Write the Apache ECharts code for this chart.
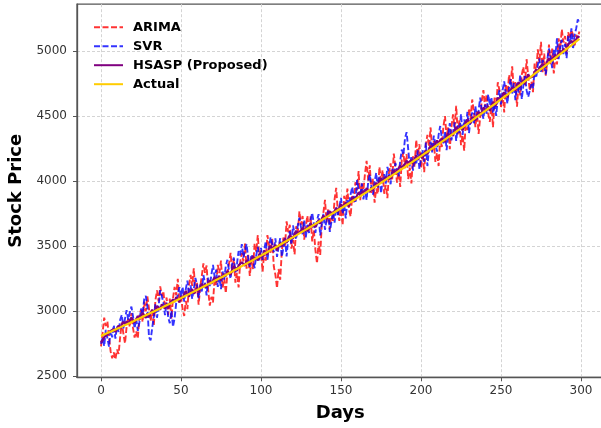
<!DOCTYPE html>
<html>
<head>
<meta charset="utf-8">
<script src="https://cdn.jsdelivr.net/npm/echarts@6/dist/echarts.min.js"></script>
<style>
  html, body { margin: 0; padding: 0; background: #fff; }
  #chart { width: 601px; height: 428px; }
</style>
</head>
<body>
<div id="chart"></div>
<script>
// tick labels
const xTicks = [0, 50, 100, 150, 200, 250, 300];
const yTicks = [2500, 3000, 3500, 4000, 4500, 5000];

// one value per day, day 0..299
const actualValues = [
  2808, 2814, 2819, 2825, 2830, 2836, 2841, 2847, 2852, 2858,
  2863, 2869, 2874, 2880, 2886, 2891, 2897, 2903, 2908, 2914,
  2920, 2926, 2932, 2937, 2943, 2949, 2955, 2961, 2967, 2972,
  2978, 2984, 2990, 2996, 3002, 3008, 3014, 3020, 3026, 3032,
  3038, 3044, 3050, 3056, 3062, 3068, 3075, 3081, 3087, 3093,
  3099, 3105, 3112, 3118, 3124, 3130, 3137, 3143, 3149, 3155,
  3161, 3168, 3174, 3180, 3187, 3193, 3200, 3206, 3212, 3219,
  3225, 3232, 3238, 3245, 3251, 3258, 3264, 3271, 3277, 3284,
  3291, 3298, 3304, 3311, 3318, 3324, 3331, 3338, 3345, 3351,
  3358, 3365, 3372, 3379, 3385, 3392, 3399, 3406, 3413, 3420,
  3426, 3433, 3440, 3447, 3454, 3461, 3468, 3475, 3482, 3489,
  3496, 3503, 3510, 3517, 3525, 3532, 3539, 3546, 3553, 3560,
  3568, 3575, 3582, 3590, 3597, 3604, 3611, 3619, 3626, 3633,
  3640, 3648, 3655, 3662, 3670, 3677, 3685, 3692, 3700, 3707,
  3715, 3722, 3730, 3738, 3745, 3753, 3760, 3768, 3775, 3783,
  3790, 3798, 3806, 3813, 3821, 3829, 3837, 3844, 3852, 3860,
  3868, 3876, 3883, 3891, 3899, 3907, 3915, 3923, 3931, 3939,
  3946, 3954, 3962, 3970, 3978, 3986, 3994, 4002, 4010, 4018,
  4027, 4035, 4043, 4051, 4059, 4067, 4076, 4084, 4092, 4100,
  4108, 4116, 4125, 4133, 4141, 4150, 4158, 4166, 4175, 4183,
  4191, 4199, 4208, 4216, 4225, 4233, 4242, 4250, 4259, 4267,
  4276, 4285, 4293, 4302, 4310, 4319, 4328, 4336, 4345, 4353,
  4362, 4371, 4379, 4388, 4397, 4406, 4414, 4423, 4432, 4441,
  4449, 4458, 4467, 4476, 4485, 4494, 4503, 4511, 4520, 4529,
  4538, 4547, 4556, 4565, 4574, 4583, 4592, 4601, 4610, 4620,
  4629, 4638, 4647, 4656, 4665, 4675, 4684, 4693, 4702, 4711,
  4721, 4730, 4739, 4749, 4758, 4767, 4777, 4786, 4795, 4805,
  4814, 4823, 4833, 4842, 4852, 4861, 4871, 4880, 4890, 4899,
  4909, 4918, 4928, 4938, 4947, 4957, 4967, 4976, 4986, 4996,
  5005, 5015, 5025, 5034, 5044, 5054, 5064, 5074, 5083, 5093
];

const arimaValues = [
  2728, 2834, 2949, 2885, 2920, 2796, 2691, 2637, 2682, 2628,
  2703, 2669, 2804, 2910, 2826, 2751, 2877, 2943, 2878, 2984,
  2870, 2796, 2842, 2787, 2963, 3009, 2915, 3071, 2997, 3112,
  3018, 2924, 3000, 2886, 3082, 3158, 3074, 3190, 3116, 3152,
  3018, 3104, 2970, 3096, 2942, 3098, 3185, 3121, 3247, 3063,
  3119, 3015, 2962, 3078, 3014, 3200, 3277, 3193, 3329, 3135,
  3221, 3048, 3184, 3270, 3367, 3293, 3350, 3156, 3042, 3109,
  3065, 3252, 3198, 3355, 3291, 3388, 3174, 3251, 3137, 3294,
  3361, 3448, 3294, 3401, 3218, 3294, 3181, 3378, 3445, 3381,
  3518, 3325, 3432, 3269, 3395, 3322, 3519, 3456, 3583, 3400,
  3466, 3303, 3450, 3387, 3584, 3511, 3448, 3555, 3342, 3279,
  3176, 3323, 3240, 3457, 3565, 3502, 3689, 3606, 3663, 3480,
  3548, 3435, 3652, 3600, 3767, 3664, 3731, 3549, 3656, 3733,
  3610, 3728, 3535, 3622, 3470, 3367, 3535, 3432, 3670, 3757,
  3855, 3682, 3790, 3628, 3765, 3693, 3860, 3948, 3765, 3693,
  3820, 3658, 3886, 3813, 3941, 3779, 3727, 3884, 3832, 3990,
  3928, 4076, 3853, 3981, 3929, 4057, 4155, 4003, 4121, 3899,
  4016, 3834, 3942, 3900, 4108, 4006, 4084, 3902, 3970, 3868,
  4067, 4135, 4013, 4211, 4109, 3987, 4096, 3954, 4162, 4220,
  4098, 4206, 4015, 4103, 3981, 4190, 4108, 4316, 4195, 4283,
  4101, 4219, 4068, 4276, 4355, 4263, 4412, 4230, 4309, 4147,
  4216, 4115, 4323, 4262, 4420, 4499, 4338, 4416, 4245, 4413,
  4512, 4411, 4579, 4358, 4467, 4276, 4354, 4233, 4462, 4391,
  4559, 4478, 4627, 4536, 4415, 4534, 4363, 4491, 4620, 4699,
  4568, 4667, 4516, 4455, 4594, 4413, 4642, 4571, 4760, 4700,
  4569, 4678, 4527, 4746, 4645, 4815, 4744, 4883, 4692, 4761,
  4571, 4760, 4659, 4819, 4878, 4737, 4937, 4806, 4695, 4765,
  4684, 4903, 4843, 5012, 4912, 5071, 4831, 4980, 4810, 4929,
  5049, 4898, 5018, 4828, 4957, 4897, 5097, 5016, 5166, 5066,
  5115, 4975, 5145, 5094, 5160, 5124, 5034, 5124, 5103, 5150
];

const svrValues = [
  2748, 2794, 2729, 2855, 2790, 2726, 2851, 2797, 2892, 2788,
  2883, 2839, 2934, 2970, 2866, 2941, 3007, 2933, 2988, 3034,
  2960, 2866, 2942, 2847, 2913, 3019, 2975, 3091, 3117, 3032,
  2798, 2774, 2870, 2956, 3052, 2948, 3034, 3160, 3116, 3062,
  2968, 3064, 2950, 2906, 3002, 2878, 2945, 3061, 3127, 3183,
  3109, 3185, 3072, 3168, 3234, 3120, 3197, 3093, 3169, 3255,
  3201, 3098, 3204, 3150, 3277, 3213, 3120, 3256, 3192, 3279,
  3355, 3262, 3318, 3185, 3261, 3168, 3304, 3241, 3347, 3394,
  3311, 3248, 3364, 3411, 3298, 3364, 3461, 3428, 3515, 3411,
  3468, 3515, 3402, 3339, 3435, 3402, 3329, 3426, 3493, 3390,
  3486, 3393, 3470, 3537, 3394, 3481, 3568, 3515, 3452, 3559,
  3416, 3493, 3560, 3417, 3485, 3562, 3419, 3556, 3613, 3510,
  3658, 3595, 3552, 3660, 3717, 3644, 3591, 3699, 3566, 3663,
  3600, 3698, 3755, 3672, 3600, 3697, 3745, 3582, 3670, 3747,
  3625, 3702, 3780, 3608, 3685, 3763, 3680, 3798, 3735, 3803,
  3870, 3748, 3816, 3713, 3861, 3809, 3897, 3954, 3872, 3830,
  4008, 3936, 3873, 3981, 3859, 3937, 3855, 3993, 4051, 3959,
  3896, 3994, 4062, 3950, 4038, 3906, 4004, 4052, 3980, 4108,
  4057, 3975, 4093, 4041, 4139, 4087, 4036, 4154, 4242, 4200,
  4328, 4376, 4245, 4113, 4191, 4080, 4178, 4126, 4235, 4093,
  4171, 4239, 4148, 4296, 4115, 4243, 4302, 4220, 4349, 4287,
  4226, 4355, 4423, 4332, 4290, 4379, 4238, 4356, 4445, 4313,
  4372, 4451, 4309, 4428, 4367, 4516, 4354, 4473, 4422, 4531,
  4369, 4478, 4527, 4436, 4575, 4474, 4543, 4641, 4540, 4479,
  4588, 4517, 4666, 4585, 4644, 4523, 4602, 4501, 4640, 4700,
  4589, 4698, 4767, 4676, 4595, 4715, 4784, 4673, 4752, 4621,
  4751, 4680, 4819, 4629, 4738, 4807, 4697, 4646, 4635, 4745,
  4714, 4843, 4793, 4892, 4942, 4831, 4931, 4890, 4820, 4939,
  5019, 4948, 4868, 5018, 4967, 5097, 4937, 5036, 5086, 4976,
  5055, 4945, 5115, 5054, 5174, 5014, 5124, 5174, 5243, 5213
];

const hsaspValues = [
  2758, 2774, 2799, 2790, 2820, 2811, 2846, 2832, 2862, 2838,
  2863, 2889, 2864, 2895, 2916, 2896, 2922, 2898, 2928, 2949,
  2930, 2911, 2937, 2962, 2933, 2964, 2985, 2966, 2947, 2982,
  2953, 2984, 3010, 2981, 3012, 3038, 3029, 3010, 3051, 3037,
  3018, 3054, 3020, 3061, 3047, 3088, 3070, 3106, 3097, 3068,
  3114, 3095, 3132, 3153, 3129, 3110, 3147, 3168, 3134, 3155,
  3181, 3143, 3184, 3210, 3182, 3208, 3180, 3211, 3237, 3209,
  3235, 3262, 3223, 3250, 3271, 3233, 3264, 3286, 3267, 3309,
  3296, 3278, 3319, 3346, 3328, 3309, 3351, 3338, 3375, 3361,
  3348, 3390, 3377, 3359, 3400, 3422, 3394, 3416, 3388, 3440,
  3431, 3418, 3465, 3457, 3434, 3476, 3503, 3475, 3472, 3509,
  3466, 3498, 3525, 3497, 3535, 3557, 3524, 3551, 3583, 3570,
  3558, 3595, 3617, 3595, 3582, 3619, 3641, 3614, 3636, 3613,
  3650, 3673, 3645, 3667, 3645, 3672, 3700, 3672, 3710, 3732,
  3720, 3707, 3750, 3768, 3745, 3733, 3770, 3793, 3765, 3798,
  3820, 3803, 3791, 3833, 3831, 3804, 3842, 3874, 3867, 3850,
  3888, 3911, 3893, 3881, 3924, 3907, 3945, 3938, 3916, 3949,
  3926, 3959, 3987, 3960, 3993, 4021, 3999, 3987, 4030, 4013,
  4042, 4015, 4053, 4081, 4059, 4052, 4096, 4119, 4102, 4090,
  4133, 4156, 4140, 4128, 4161, 4135, 4168, 4196, 4165, 4188,
  4211, 4174, 4213, 4231, 4205, 4243, 4272, 4250, 4244, 4287,
  4311, 4295, 4283, 4327, 4315, 4299, 4343, 4366, 4340, 4363,
  4347, 4391, 4414, 4393, 4387, 4421, 4389, 4423, 4452, 4471,
  4459, 4443, 4492, 4481, 4465, 4509, 4533, 4501, 4530, 4564,
  4553, 4542, 4576, 4540, 4574, 4608, 4602, 4586, 4640, 4625,
  4619, 4658, 4682, 4671, 4645, 4685, 4679, 4718, 4707, 4696,
  4736, 4760, 4729, 4754, 4778, 4747, 4787, 4821, 4795, 4780,
  4804, 4838, 4858, 4837, 4872, 4861, 4901, 4890, 4875, 4919,
  4944, 4923, 4908, 4953, 4972, 4947, 4977, 5006, 4981, 5016,
  5005, 5000, 5050, 5044, 5079, 5059, 5044, 5089, 5113, 5103
];

const font = 'DejaVu Sans';
const axisColor = '#555';

// x = day index
function toPairs(values) {
  return values.map((v, i) => [i, v]);
}

const chart = echarts.init(document.getElementById('chart'), null, { renderer: 'canvas' });

chart.setOption({
  animation: false,
  backgroundColor: '#fff',
  grid: {
    left: 77,
    right: -2.4,
    top: 4.2,
    bottom: 50.7,
    show: true,
    borderColor: axisColor,
    borderWidth: 1.3,
    containLabel: false,
    outerBoundsMode: 'none',
  },
  legend: {
    orient: 'vertical',
    left: 88,
    top: 15.7,
    itemWidth: 29,
    itemHeight: 14,
    itemGap: 6,
    itemStyle: { opacity: 0 }, // line only, no marker
    textStyle: {
      fontFamily: font,
      fontSize: 13,
      fontWeight: 'bold',
      color: '#000',
      padding: [0, 0, 0, 5],
    },
    data: ['ARIMA', 'SVR', 'HSASP (Proposed)', 'Actual'],
  },
  xAxis: {
    type: 'value',
    min: -15,
    max: 314,
    name: 'Days',
    nameLocation: 'middle',
    nameGap: 27,
    nameTextStyle: { fontFamily: font, fontSize: 18, fontWeight: 'bold', color: '#000' },
    axisLine: { show: true, onZero: false, lineStyle: { color: axisColor, width: 1.3 } },
    axisTick: { show: true, length: 4, customValues: xTicks, lineStyle: { color: axisColor } },
    axisLabel: {
      customValues: xTicks, margin: 8, fontFamily: font, fontSize: 12, color: '#333',
      formatter: (v) => String(v),
    },
    splitLine: { show: true, lineStyle: { color: '#d4d4d4', type: [3, 2], width: 1 } },
  },
  yAxis: {
    type: 'value',
    min: 2490,
    max: 5360,
    name: 'Stock Price',
    nameLocation: 'middle',
    nameGap: 50,
    nameTextStyle: { fontFamily: font, fontSize: 18, fontWeight: 'bold', color: '#000' },
    axisLine: { show: true, onZero: false, lineStyle: { color: axisColor, width: 1.3 } },
    axisTick: { show: true, length: 4, customValues: yTicks, lineStyle: { color: axisColor } },
    axisLabel: {
      customValues: yTicks, margin: 10, fontFamily: font, fontSize: 12, color: '#333',
      formatter: (v) => String(v),
    },
    splitLine: { show: true, lineStyle: { color: '#d4d4d4', type: [3, 2], width: 1 } },
  },
  series: [
    {
      name: 'ARIMA',
      type: 'line',
      symbol: 'none',
      data: toPairs(arimaValues),
      lineStyle: { color: 'rgba(255,0,0,0.8)', width: 1.9, type: [6, 2.5] },
      itemStyle: { color: 'rgba(255,0,0,0.8)' },
      z: 2,
    },
    {
      name: 'SVR',
      type: 'line',
      symbol: 'none',
      data: toPairs(svrValues),
      lineStyle: { color: 'rgba(0,0,255,0.8)', width: 1.9, type: [6, 2.5] },
      itemStyle: { color: 'rgba(0,0,255,0.8)' },
      z: 3,
    },
    {
      name: 'HSASP (Proposed)',
      type: 'line',
      symbol: 'none',
      data: toPairs(hsaspValues),
      lineStyle: { color: '#800080', width: 2.2 },
      itemStyle: { color: '#800080' },
      z: 4,
    },
    {
      name: 'Actual',
      type: 'line',
      symbol: 'none',
      data: toPairs(actualValues),
      lineStyle: { color: '#ffcc00', width: 2.2 },
      itemStyle: { color: '#ffcc00' },
      z: 5,
    },
  ],
});
</script>
</body>
</html>
